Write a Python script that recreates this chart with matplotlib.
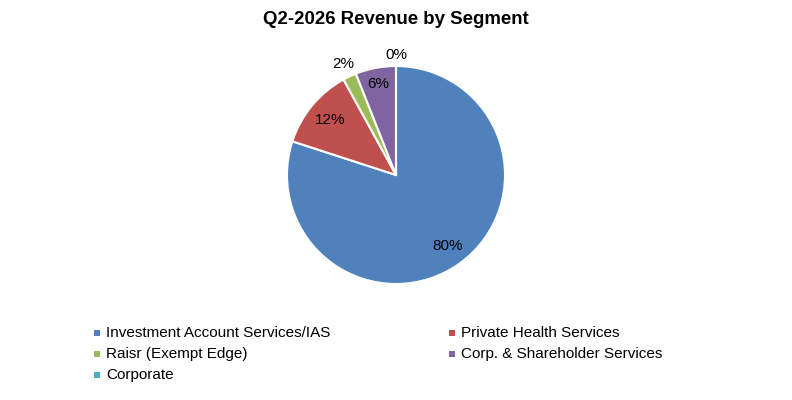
import matplotlib
matplotlib.use("Agg")
import matplotlib.pyplot as plt
import numpy as np

plt.rcParams['font.family'] = ['Liberation Sans', 'DejaVu Sans']

title = "Q2-2026 Revenue by Segment"
segments = ["Investment Account Services/IAS", "Private Health Services",
            "Raisr (Exempt Edge)", "Corp. & Shareholder Services", "Corporate"]
shares = [80, 12, 2, 6, 0]
pct_labels = ["80%", "12%", "2%", "6%", "0%"]
colors = ["#4F81BD", "#C0504D", "#9BBB59", "#8064A2", "#4BACC6"]
label_dist = [0.80, 0.79, 1.13, 0.85, 1.10]

W, H = 792, 400
fig = plt.figure(figsize=(W / 100, H / 100), dpi=100)
fig.patch.set_facecolor("white")

cx, cy, r = 396, 175, 109
ax = fig.add_axes([(cx - r) / W, (H - cy - r) / H, 2 * r / W, 2 * r / H])

wedges, _ = ax.pie(shares, colors=colors, startangle=90, counterclock=False,
                   radius=1, wedgeprops=dict(edgecolor="white", linewidth=1.5))
ax.set_xlim(-1, 1)
ax.set_ylim(-1, 1)
ax.set_aspect("equal")
ax.axis("off")

for w, lab, d in zip(wedges, pct_labels, label_dist):
    ang = np.deg2rad((w.theta1 + w.theta2) / 2)
    ax.text(d * np.cos(ang), d * np.sin(ang), lab, ha="center", va="center",
            fontsize=11, color="#000000", clip_on=False)

fig.text(cx / W, 1 - 20 / H, title, ha="center", va="center",
         fontsize=13.4, fontweight="bold")

# legend, row-major, two columns
col_x = [97, 452]
row_y = [333, 354, 375]
for i, (name, c) in enumerate(zip(segments, colors)):
    col = i % 2
    row = i // 2
    x = col_x[col]
    y = row_y[row]
    fig.patches.append(plt.Rectangle(((x - 3) / W, 1 - (y + 3) / H), 6 / W, 6 / H,
                                     transform=fig.transFigure, facecolor=c,
                                     edgecolor="none"))
    fig.text((x + 9) / W, 1 - y / H, name, ha="left", va="center", fontsize=11)

fig.savefig("out.png", dpi=100)
